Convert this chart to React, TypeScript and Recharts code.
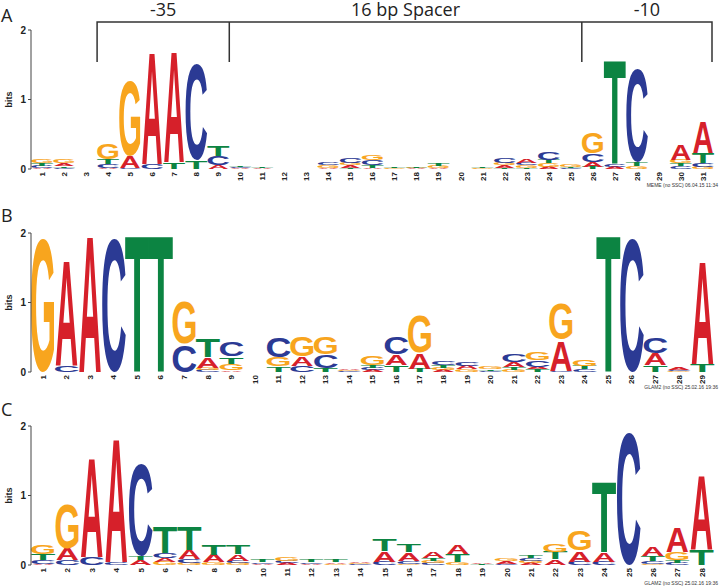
import React from 'react';
import { BarChart, Bar, XAxis, YAxis } from 'recharts';

type Stack = [string, number][];

// bits per letter, bottom -> top, one entry per position
const stacksA: Stack[] = [
  [['A', 0.02], ['C', 0.03], ['T', 0.03], ['G', 0.05]],
  [['C', 0.02], ['T', 0.02], ['A', 0.04], ['G', 0.05]],
  [],
  [['A', 0.02], ['C', 0.05], ['T', 0.07], ['G', 0.24]],
  [['C', 0.02], ['A', 0.17], ['G', 1.12]],
  [['C', 0.07], ['A', 1.65]],
  [['T', 0.1], ['A', 1.62]],
  [['T', 0.12], ['C', 1.45]],
  [['A', 0.06], ['C', 0.13], ['T', 0.15]],
  [['A', 0.01], ['C', 0.02], ['T', 0.02]],
  [['A', 0.01], ['T', 0.02]],
  [],
  [],
  [['A', 0.02], ['G', 0.03], ['C', 0.04]],
  [['T', 0.02], ['A', 0.03], ['G', 0.03], ['C', 0.08]],
  [['A', 0.02], ['T', 0.03], ['C', 0.08], ['G', 0.08]],
  [['G', 0.01], ['T', 0.01]],
  [['A', 0.01], ['G', 0.01], ['T', 0.01]],
  [['A', 0.02], ['G', 0.03], ['T', 0.04]],
  [],
  [['G', 0.01], ['T', 0.02]],
  [['T', 0.02], ['A', 0.03], ['G', 0.04], ['C', 0.07]],
  [['T', 0.02], ['G', 0.03], ['C', 0.04], ['A', 0.06]],
  [['A', 0.03], ['G', 0.05], ['T', 0.05], ['C', 0.11]],
  [['C', 0.01], ['T', 0.02], ['G', 0.03]],
  [['T', 0.03], ['A', 0.07], ['C', 0.12], ['G', 0.32]],
  [['A', 0.03], ['C', 0.04], ['T', 1.52]],
  [['G', 0.04], ['T', 0.05], ['C', 1.4]],
  [],
  [['C', 0.04], ['T', 0.04], ['G', 0.05], ['A', 0.22]],
  [['G', 0.03], ['C', 0.05], ['T', 0.15], ['A', 0.45]],
];

const stacksB: Stack[] = [
  [['G', 2]],
  [['C', 0.1], ['A', 1.55]],
  [['A', 2]],
  [['C', 2]],
  [['T', 2]],
  [['T', 2]],
  [['C', 0.4], ['G', 0.63]],
  [['C', 0.03], ['G', 0.03], ['A', 0.15], ['T', 0.27]],
  [['A', 0.02], ['G', 0.1], ['T', 0.1], ['C', 0.22]],
  [],
  [['T', 0.08], ['G', 0.13], ['C', 0.3]],
  [['C', 0.09], ['A', 0.13], ['G', 0.3]],
  [['T', 0.06], ['C', 0.2], ['G', 0.26]],
  [['C', 0.01], ['G', 0.02], ['A', 0.02]],
  [['A', 0.03], ['C', 0.03], ['T', 0.04], ['G', 0.13]],
  [['T', 0.1], ['A', 0.15], ['C', 0.26]],
  [['T', 0.05], ['A', 0.23], ['G', 0.55]],
  [['A', 0.03], ['G', 0.03], ['T', 0.04], ['C', 0.06]],
  [['G', 0.04], ['A', 0.05], ['C', 0.06]],
  [['C', 0.02], ['T', 0.02], ['G', 0.04]],
  [['G', 0.03], ['T', 0.04], ['A', 0.07], ['C', 0.11]],
  [['T', 0.04], ['A', 0.03], ['C', 0.1], ['G', 0.12]],
  [['C', 0.02], ['A', 0.44], ['G', 0.54]],
  [['C', 0.04], ['T', 0.05], ['G', 0.1]],
  [['T', 2]],
  [['C', 2]],
  [['T', 0.1], ['A', 0.17], ['C', 0.24]],
  [['G', 0.01], ['C', 0.02], ['A', 0.04]],
  [['T', 0.12], ['A', 1.52]],
];

const stacksC: Stack[] = [
  [['A', 0.02], ['C', 0.05], ['T', 0.09], ['G', 0.14]],
  [['C', 0.07], ['A', 0.17], ['G', 0.67]],
  [['C', 0.12], ['A', 1.46]],
  [['C', 0.04], ['A', 1.81]],
  [['A', 0.07], ['T', 0.05], ['C', 1.38]],
  [['G', 0.05], ['A', 0.05], ['C', 0.07], ['T', 0.38]],
  [['G', 0.03], ['C', 0.05], ['A', 0.13], ['T', 0.34]],
  [['G', 0.04], ['A', 0.11], ['T', 0.16]],
  [['G', 0.03], ['C', 0.03], ['A', 0.1], ['T', 0.13]],
  [['A', 0.02], ['C', 0.02], ['T', 0.03]],
  [['A', 0.03], ['C', 0.03], ['G', 0.06]],
  [['A', 0.02], ['C', 0.02], ['T', 0.03]],
  [['G', 0.02], ['A', 0.02], ['T', 0.03]],
  [['C', 0.01], ['G', 0.02], ['A', 0.02]],
  [['C', 0.05], ['A', 0.15], ['T', 0.17]],
  [['G', 0.02], ['C', 0.04], ['A', 0.12], ['T', 0.12]],
  [['C', 0.03], ['G', 0.03], ['T', 0.04], ['A', 0.09]],
  [['G', 0.04], ['T', 0.12], ['A', 0.14]],
  [['T', 0.01], ['A', 0.02]],
  [['C', 0.02], ['A', 0.03], ['G', 0.04]],
  [['A', 0.03], ['G', 0.03], ['C', 0.04], ['T', 0.04]],
  [['A', 0.08], ['T', 0.11], ['G', 0.12]],
  [['C', 0.05], ['A', 0.16], ['G', 0.29]],
  [['C', 0.05], ['A', 0.13], ['T', 1.04]],
  [['C', 1.98]],
  [['G', 0.02], ['C', 0.04], ['T', 0.07], ['A', 0.13]],
  [['C', 0.03], ['T', 0.04], ['G', 0.12], ['A', 0.36]],
  [['T', 0.22], ['A', 1.08]],
];

const regionLabels = ['-35', '16 bp Spacer', '-10'];
const regionBounds = [3, 9, 25, 31]; // position boundaries of the brackets in panel A
const footnotes = ['MEME (no SSC) 06.04.15 11:34', 'GLAM2 (no SSC) 25.02.16 19:36', 'GLAM2 (no SSC) 25.02.16 19:36'];
const panelNames = ['A', 'B', 'C'];

// glyph metrics for Liberation Sans Bold (em units)
const GLYPH: Record<string, { w: number; h: number; d: number; color: string }> = {
  A: { w: 0.72, h: 0.716, d: 0, color: '#D6202A' },
  C: { w: 0.64, h: 0.74, d: 0.012, color: '#2B3A94' },
  G: { w: 0.68, h: 0.74, d: 0.012, color: '#F8A51E' },
  T: { w: 0.57, h: 0.716, d: 0, color: '#0C8442' },
};

const W = 720;
const PLOT_TOP = 30;
const PLOT_H = 139;
const X_AXIS_H = 18;
const CHART_H = PLOT_TOP + PLOT_H + X_AXIS_H;
const PLOT_LEFT = 31;
const PLOT_RIGHT = 714;
const PANEL_TOPS = [0, 203, 396];

function toRows(stacks: Stack[]) {
  return stacks.map((s, i) => {
    const row: any = { pos: String(i + 1) };
    for (let k = 0; k < 4; k++) {
      row['r' + k] = s[k] ? s[k][1] : 0;
      row['l' + k] = s[k] ? s[k][0] : '';
    }
    return row;
  });
}

function Letter(props: any) {
  const { x, y, width, height, payload, rank } = props;
  const L = payload && payload['l' + rank];
  if (!L || !height || height <= 0) return null;
  const g = GLYPH[L];
  const sx = width / (g.w * 100);
  const sy = height / (g.h * 100);
  const by = y + height - g.d * 100 * sy;
  return (
    <text
      x={0}
      y={0}
      fontSize={100}
      fontFamily="'Liberation Sans', Arial, sans-serif"
      fontWeight={700}
      textAnchor="middle"
      fill={g.color}
      transform={`translate(${x + width / 2},${by}) scale(${sx},${sy})`}
    >
      {L}
    </text>
  );
}

function PosTick(props: any) {
  const { x, y, payload } = props;
  return (
    <text
      transform={`translate(${x},${y - 5}) rotate(-90)`}
      textAnchor="end"
      dy="0.36em"
      fontSize={8}
      fontWeight={700}
      fontFamily="'Liberation Sans', Arial, sans-serif"
      fill="#222"
    >
      {payload.value}
    </text>
  );
}

function Logo({ stacks }: { stacks: Stack[] }) {
  const data = toRows(stacks);
  return (
    <BarChart
      width={W}
      height={CHART_H}
      data={data}
      margin={{ top: PLOT_TOP, right: W - PLOT_RIGHT, bottom: 0, left: 0 }}
      barCategoryGap="2%"
    >
      <XAxis dataKey="pos" height={X_AXIS_H} axisLine={false} tickLine={false} tick={<PosTick />} interval={0} />
      <YAxis
        width={PLOT_LEFT}
        domain={[0, 2]}
        ticks={[0, 1, 2]}
        allowDataOverflow
        tickSize={3}
        axisLine={{ stroke: '#444' }}
        tickLine={{ stroke: '#444' }}
        tick={{ fontSize: 10, fontWeight: 700, fill: '#222', fontFamily: "'Liberation Sans', Arial, sans-serif" }}
      />
      {[0, 1, 2, 3].map((k) => (
        <Bar
          key={k}
          dataKey={'r' + k}
          stackId="logo"
          isAnimationActive={false}
          shape={(p: any) => <Letter {...p} rank={k} />}
        />
      ))}
    </BarChart>
  );
}

export default function App() {
  const bandA = (PLOT_RIGHT - PLOT_LEFT) / stacksA.length;
  const bx = regionBounds.map((b) => PLOT_LEFT + b * bandA);
  bx[3] -= 2;
  const font = "'Open Sans', 'Liberation Sans', sans-serif";
  return (
    <div style={{ position: 'absolute', left: 0, top: 0, width: W, height: 587, background: '#fff', overflow: 'hidden' }}>
      {[stacksA, stacksB, stacksC].map((s, i) => (
        <div key={i} style={{ position: 'absolute', left: 0, top: PANEL_TOPS[i] }}>
          <Logo stacks={s} />
        </div>
      ))}
      <svg width={W} height={587} style={{ position: 'absolute', left: 0, top: 0, pointerEvents: 'none' }}>
        {/* bracket over panel A */}
        <path
          d={`M${bx[0]},62 V22 H${bx[3]} V62 M${bx[1]},22 V62 M${bx[2]},22 V62`}
          fill="none"
          stroke="#333"
          strokeWidth={1.5}
        />
        {regionLabels.map((t, i) => (
          <text key={t} x={(bx[i] + bx[i + 1]) / 2} y={16} textAnchor="middle" fontSize={18} fontFamily={font} fill="#222">
            {t}
          </text>
        ))}
        {panelNames.map((n, i) => {
          const top = PANEL_TOPS[i];
          return (
            <g key={n}>
              <text x={1} y={[22, 222, 416][i]} fontSize={18} fontFamily={font} fill="#222">
                {n}
              </text>
              <text
                transform={`translate(12,${top + PLOT_TOP + PLOT_H / 2}) rotate(-90)`}
                textAnchor="middle"
                fontSize={9}
                fontWeight={700}
                fontFamily="'Liberation Sans', Arial, sans-serif"
                fill="#222"
              >
                bits
              </text>
              <text
                x={718}
                y={[187, 389, 585][i]}
                textAnchor="end"
                fontSize={5}
                fontFamily="'Liberation Sans', Arial, sans-serif"
                fill="#333"
              >
                {footnotes[i]}
              </text>
            </g>
          );
        })}
      </svg>
    </div>
  );
}
